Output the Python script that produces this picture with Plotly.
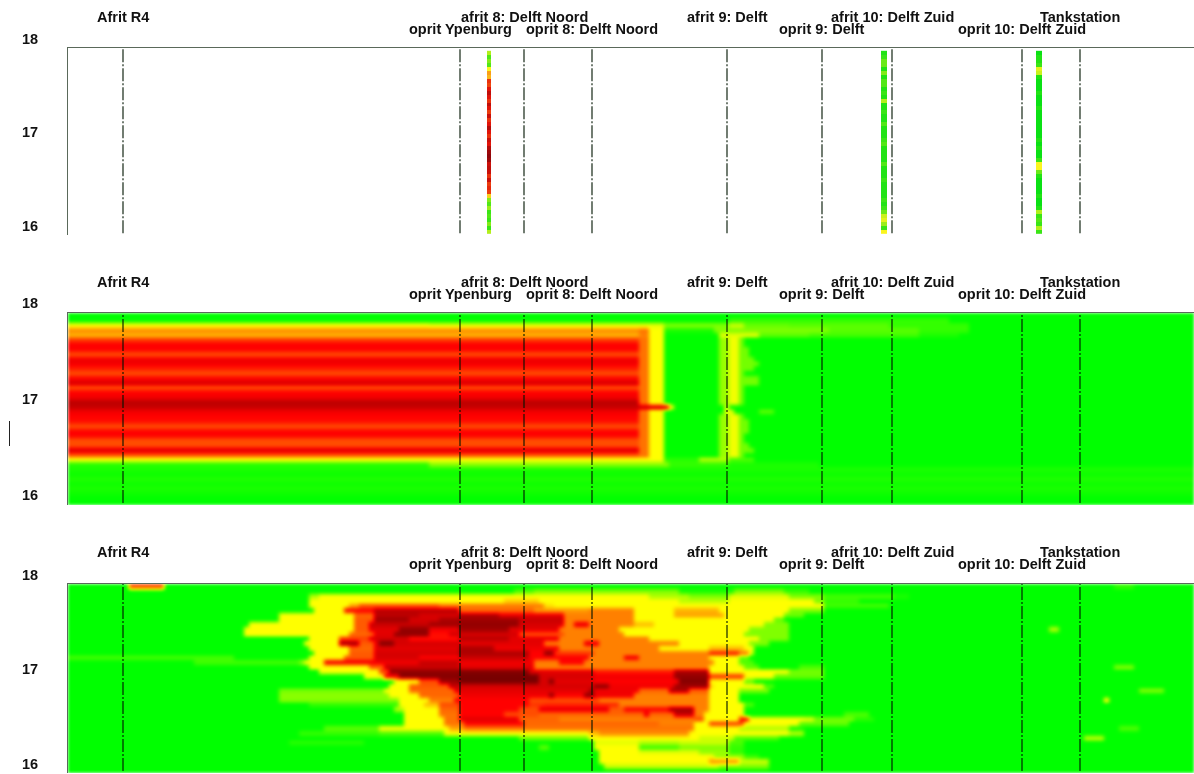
import plotly.graph_objects as go

# --- Locations along the carriageway (km from the left of the plot) ---
location_km = [0.55, 3.92, 4.56, 5.24, 6.59, 7.54, 8.24, 9.54, 10.12]
location_names = ["Afrit R4", "oprit Ypenburg", "afrit 8: Delft Noord", "oprit 8: Delft Noord",
                  "afrit 9: Delft", "oprit 9: Delft", "afrit 10: Delft Zuid",
                  "oprit 10: Delft Zuid", "Tankstation"]
location_row = [0, 1, 0, 1, 0, 1, 0, 1, 0]
y_tick_values = [16, 17, 18]

# --- Panel A: three measured strips (level per cell, top to bottom) ---
strip_edges_km = [[4.19, 4.23], [8.13, 8.185], [9.68, 9.735]]
strip_a = [.7, .3, .5, .3, 1, 1.7, 1.5, 2.7, 2.5, 3, 3.3, 3, 2.7, 3.3, 3, 2.6, 3.2, 2.7, 3, 3.4, 3, 2.7, 3.2,
           3, 3.4, 3.6, 3.7, 3.6, 3.2, 3.3, 3.2, 2.7, 3.2, 2.6, 2.8, 2.6, 1.3, .5, .3, .6, .2, .3, .2, .5, .2, .7]
strip_b = [.1, .2, .4, .4, .1, .5, .1, .3, .3, .1, .2, .1, .7, .1, .1, .2, .1, .1, .3, .1, .1, .1, .2, .3, .1,
           .1, .1, .1, .3, .1, .1, .1, .2, .1, .1, .1, .1, .2, .1, .2, .4, .8, .9, .6, .2, 1]
strip_c = [0, .1, .1, .2, .9, .8, .1, 0, 0, 0, .1, 0, 0, 0, .1, 0, 0, 0, 0, 0, 0, 0, .1, 0, .1, 0, 0, .2, 1, 1,
           .4, .1, 0, 0, 0, 0, .1, 0, 0, .1, .7, .2, .3, .2, .7, .2]

# --- Panel B: level of each band upstream of the queue head, top to bottom ---
band_levels = [0, 0, 1, 1.9, 1.6, 2.5, 3, 3, 2.4, 3.1, 3.1, 2.8, 2.4, 3, 3.3, 2.4, 3, 3.1, 3.5, 3.6, 3.1, 3, 2.9,
               2.4, 3, 3, 2.4, 2.4, 3.3, 2.3, 1, .15, .1, .05, .12, .05, .1, .05, 0, 0]
fringe_end_km = [6.77, 6.77, 6.80, 6.82, 6.87, 6.92, 6.87, 6.77, 6.92, 6.92, 6.74, 6.75, 6.74, 6.77, 6.62,
                 6.67, 6.77, 6.80, 6.82, 6.82, 6.77, 6.77, 6.80, 6.84, 6.77]   # rows 5..29
special_rows_b = {
    0: [(11.3, 0)],
    1: [(6.59, 0), (8.82, .2), (11.3, 0)],
    2: [(3.6, 1), (5.95, .9), (6.59, .5), (6.75, .8), (7.2, .4), (8.2, .35), (9.0, .2), (11.3, 0)],
    3: [(5.72, 1.9), (5.80, 2.1), (5.95, 1), (6.45, .1), (6.59, .5), (7.6, .5), (8.5, .35), (9.0, .2), (11.3, 0)],
    4: [(5.72, 1.6), (5.80, 2), (5.95, 1), (6.5, 0), (6.9, .9), (7.4, .35), (8.5, .25), (8.9, .1), (11.3, 0)],
    19: [(5.98, 3.4), (6.04, 1), (6.55, 0), (6.62, .8), (11.3, 0)],
    20: [(5.72, 3.1), (5.80, 2.1), (5.95, 1), (6.55, 0), (6.67, .9), (6.89, 0), (7.03, .35), (11.3, 0)],
    30: [(5.95, 1), (6.3, .15), (6.59, .7), (6.85, .3), (11.3, 0)],
    31: [(3.6, .15), (6.0, .55), (6.59, .2), (7.5, .1), (11.3, 0)],
}

# --- Panel C: per row, runs of (end km, level), top to bottom ---
rows_c = [
    [(0.62, 0), (0.97, 2.4), (10.45, 0), (10.65, .2), (11.3, 0)],
    [(4.47, 0), (4.67, .3), (6.12, .5), (6.22, .1), (6.65, .1), (7.17, .5), (7.42, .2), (11.3, 0)],
    [(2.42, 0), (2.50, .7), (5.82, 1), (6.22, .7), (6.59, .5), (7.22, .9), (7.57, .5), (8.25, .25), (8.42, .1), (11.3, 0)],
    [(2.40, 0), (2.57, 1), (4.37, 1), (4.72, 1.4), (6.12, 1), (6.59, .75), (7.47, 1), (7.57, .5), (7.92, .2), (11.3, 0)],
    [(2.40, 0), (2.79, 1), (2.92, 1.7), (3.72, 2.3), (4.77, 2), (4.87, 1.2), (7.57, 1), (8.22, .25), (11.3, 0)],
    [(2.44, 0), (2.74, 1), (3.04, 3), (3.92, 3.5), (4.67, 2.2), (5.22, 1.8), (5.67, 2), (6.07, 1), (6.52, 1.6), (7.22, 1), (7.57, .5), (11.3, 0)],
    [(2.12, 0), (2.85, 1), (3.04, 2.2), (3.50, 3.5), (3.92, 3.3), (4.30, 3.6), (4.95, 3.2), (5.65, 2), (6.07, 1), (6.54, 1.7), (7.17, 1), (7.37, .4), (11.3, 0)],
    [(2.10, 0), (2.85, 1), (3.04, 2.3), (3.40, 3.7), (3.70, 3.3), (3.92, 3.6), (4.49, 3.7), (4.97, 3.4), (5.65, 2), (7.07, 1), (7.17, .4), (11.3, 0)],
    [(1.82, 0), (2.85, 1), (3.02, 2.3), (3.60, 3.4), (3.92, 3.7), (4.52, 3.8), (4.97, 3.3), (5.07, 2), (5.19, 3.2), (5.65, 2), (5.87, 1.5), (6.97, 1), (7.19, .5), (11.3, 0)],
    [(1.77, 0), (2.85, 1), (3.02, 2.3), (3.30, 3.2), (3.62, 3.8), (3.92, 3.1), (4.40, 3.7), (4.92, 3.2), (5.52, 2), (6.82, 1), (7.22, .5), (9.79, 0), (9.90, .7), (11.3, 0)],
    [(1.77, 0), (2.82, 1), (3.04, 2.2), (3.27, 3.2), (3.62, 3.8), (3.80, 2.9), (4.49, 3.3), (4.97, 2.4), (5.54, 2), (6.77, 1), (7.22, .5), (11.3, 0)],
    [(2.42, 0), (2.70, 1), (3.02, 2.5), (3.40, 3.3), (3.92, 2.9), (4.40, 3.5), (4.92, 3.2), (5.79, 2), (6.89, 1), (7.22, .5), (11.3, 0)],
    [(2.37, 0), (2.72, 1), (2.92, 3.7), (3.05, 2.3), (3.10, 3.2), (3.24, 3.9), (3.92, 3.3), (4.75, 3.2), (5.14, 2), (5.32, 3.2), (6.12, 2), (6.80, 1), (7.02, .5), (11.3, 0)],
    [(2.40, 0), (2.82, 1), (3.05, 2.2), (3.92, 3.2), (4.25, 3.6), (4.92, 3.1), (5.92, 2), (6.40, 1), (6.77, 1.5), (6.84, 1), (11.3, 0)],
    [(2.44, 0), (2.82, 1), (3.05, 2.3), (3.92, 3.3), (4.62, 3.6), (4.75, 3), (4.87, 3.8), (5.25, 2.6), (6.38, 2), (6.70, 2.8), (6.80, 2), (6.87, .8), (11.3, 0)],
    [(.02, 0), (1.65, .25), (2.42, 0), (2.75, 1), (3.05, 2.3), (3.50, 3.3), (3.92, 3), (4.62, 3.4), (5.19, 3), (5.55, 2), (5.72, 3.1), (6.39, 2), (6.72, 1), (6.82, .4), (11.3, 0)],
    [(1.25, 0), (2.32, .25), (2.34, .5), (2.55, 1), (3.02, 3.1), (3.50, 3.1), (3.92, 3.4), (4.65, 3.1), (4.92, 2), (5.15, 3), (6.44, 2), (6.72, 1), (6.87, .3), (11.3, 0)],
    [(2.40, 0), (3.02, 1), (3.17, 2.2), (3.92, 3.4), (4.65, 3.2), (6.39, 2), (6.77, 1), (6.92, .4), (7.32, 0), (7.57, .3), (10.47, 0), (10.65, .5), (11.3, 0)],
    [(2.50, 0), (3.09, 1), (3.20, 2.5), (3.92, 3.8), (4.62, 3.9), (5.25, 3.2), (6.05, 2.8), (6.39, 3.6), (6.59, 1), (7.22, 1), (7.57, .45), (11.3, 0)],
    [(2.95, 0), (3.15, 1), (3.32, 3), (3.92, 3.9), (4.69, 4), (5.25, 3.3), (6.05, 3.1), (6.39, 3.8), (6.75, 2.6), (7.07, 1), (7.57, .4), (11.3, 0)],
    [(3.25, 0), (3.52, 1), (3.72, 2.4), (3.92, 3.7), (4.69, 4), (4.79, 3.3), (4.87, 3.9), (5.25, 3.2), (6.12, 3), (6.39, 3.9), (6.44, 1), (6.77, 1), (6.87, .4), (11.3, 0)],
    [(3.19, 0), (3.42, 1), (3.79, 2.3), (3.92, 3.4), (5.25, 3.3), (5.42, 3.8), (6.05, 3.1), (6.39, 3.7), (6.44, 1.3), (6.97, 1), (7.07, .3), (11.3, 0)],
    [(2.12, 0), (3.17, .45), (3.39, 1), (3.87, 2.2), (5.19, 3.2), (5.25, 3.7), (5.72, 3.1), (6.00, 2.2), (6.22, 3.6), (6.42, 2.3), (6.72, 1), (7.02, .5), (10.72, 0), (10.94, .5), (11.3, 0)],
    [(2.12, 0), (3.19, .55), (3.52, 1), (3.89, 2.2), (4.79, 3.1), (4.87, 3.8), (5.14, 3), (5.25, 3.8), (5.65, 3.1), (6.42, 2), (6.72, 1), (11.3, 0)],
    [(2.12, 0), (3.29, .5), (3.59, 1), (3.85, 2), (4.62, 3), (5.32, 2.4), (6.42, 2), (6.72, 1), (10.34, 0), (10.42, 1.2), (11.3, 0)],
    [(2.42, 0), (3.29, .2), (3.57, 1), (3.72, 1.5), (3.92, 2.4), (4.62, 3), (4.77, 2.6), (5.52, 2.7), (6.42, 2), (6.77, 1), (6.87, .3), (11.3, 0)],
    [(3.27, 0), (3.37, .7), (3.72, 1), (3.92, 2.2), (4.52, 3), (4.72, 2.4), (5.42, 3.2), (5.55, 2.3), (6.02, 3), (6.25, 3.7), (6.42, 2), (6.74, 1), (11.3, 0)],
    [(3.35, 0), (3.70, 1), (3.90, 2.1), (4.37, 3), (4.72, 2.4), (5.75, 2.2), (5.80, 3.2), (6.05, 2.2), (6.25, 3.4), (6.37, 2), (6.77, 1), (7.77, 0), (8.00, .3), (11.3, 0)],
    [(3.37, 0), (3.75, 1), (3.92, 2.1), (4.52, 3.2), (4.92, 2.2), (6.25, 2), (6.35, 2.4), (6.70, 1), (6.80, 3), (7.37, 1), (7.44, .9), (7.87, .45), (8.07, .15), (11.3, 0)],
    [(3.37, 0), (3.77, 1), (3.94, 2.1), (4.57, 3), (5.92, 2.2), (6.25, 2), (6.42, 1), (6.77, 2.5), (7.32, 1), (7.82, .4), (11.3, 0)],
    [(2.55, 0), (3.12, .35), (3.79, 1), (3.95, 1.7), (6.25, 2.1), (6.72, 1), (7.22, .7), (7.35, .1), (10.52, 0), (10.70, .3), (11.3, 0)],
    [(2.29, 0), (3.09, .2), (3.75, .3), (5.19, 1), (5.32, 1.5), (6.22, 1.9), (7.22, 1), (7.37, .7), (11.3, 0)],
    [(4.52, 0), (5.19, .4), (6.32, 1), (6.67, .8), (7.12, .3), (10.17, 0), (10.34, .75), (11.3, 0)],
    [(2.19, 0), (2.95, .15), (5.25, 0), (5.72, .9), (6.12, .7), (6.59, .8), (6.77, .3), (11.3, 0)],
    [(4.69, 0), (4.82, .35), (5.25, 0), (5.72, 1), (6.09, .25), (6.59, .5), (6.77, .2), (11.3, 0)],
    [(5.29, 0), (5.72, 1), (6.32, .9), (6.59, .6), (6.77, .2), (11.3, 0)],
    [(5.32, 0), (6.45, 1), (6.77, .6), (6.92, .2), (11.3, 0)],
    [(5.32, 0), (6.42, 1), (6.69, 1.8), (7.02, .8), (11.3, 0)],
    [(5.35, 0), (6.52, .8), (7.02, .5), (11.3, 0)],
    [(11.3, 0)],
]

scale_heat = [[0, "rgb(0,255,0)"], [.25, "rgb(255,255,0)"], [.5, "rgb(255,128,0)"],
              [.75, "rgb(255,0,0)"], [1, "rgb(120,0,0)"]]
scale_strip = [[0, "rgb(10,225,20)"], [.25, "rgb(250,245,30)"], [.5, "rgb(250,120,20)"],
               [.75, "rgb(225,20,10)"], [1, "rgb(110,0,10)"]]

W, H = 1194, 774
panels = [(48, 235), (313, 505), (584, 773)]
y_range = [15.9, 17.9]
label_shift = [(31, 19), (31, 19), (32, 20)]
TEXT = dict(family="Liberation Sans", size=14.5, color="#111111")


def expand(runs, columns):
    out = []
    for c in columns:
        for end, level in runs:
            if c <= end:
                out.append(level)
                break
        else:
            out.append(runs[-1][1])
    return out


columns_km = [0.025 + 0.05 * k for k in range(227)]
rows_km = [17.875 - 0.05 * k for k in range(40)]

rows_b = []
for i, level in enumerate(band_levels):
    if i in special_rows_b:
        rows_b.append(special_rows_b[i])
    elif 5 <= i <= 29:
        end = fringe_end_km[i - 5]
        rows_b.append([(5.72, level), (5.80, 2.1), (5.95, 1), (6.52, 0), (6.60, .6), (6.70, .95), (end, .45), (11.3, 0)])
    else:
        rows_b.append([(11.3, level)])

fig = go.Figure()
for edges, strip in zip(strip_edges_km, [strip_a, strip_b, strip_c]):
    n = len(strip)
    fig.add_trace(go.Heatmap(
        x=edges, y=[17.87 - (17.87 - 15.91) * k / n for k in range(n + 1)],
        z=[[v] for v in strip], zmin=0, zmax=4, colorscale=scale_strip, showscale=False,
        xaxis="x", yaxis="y", hoverinfo="skip"))
for rows, xa, ya in [(rows_b, "x2", "y2"), (rows_c, "x3", "y3")]:
    fig.add_trace(go.Heatmap(
        x=columns_km, y=rows_km, z=[expand(r, columns_km) for r in rows],
        zmin=0, zmax=4, colorscale=scale_heat, showscale=False, zsmooth="best",
        xaxis=xa, yaxis=ya, hoverinfo="skip"))

layout = dict(width=W, height=H, margin=dict(l=0, r=0, t=0, b=0), paper_bgcolor="white",
              plot_bgcolor="white", showlegend=False)
shapes, notes = [], []
for p, (top, bottom) in enumerate(panels):
    suffix = "" if p == 0 else str(p + 1)
    layout["xaxis" + suffix] = dict(domain=[68 / W, 1], range=[0, 11.26], side="top", anchor="y" + suffix,
                                    showgrid=False, zeroline=False, showticklabels=False, ticks="",
                                    showline=True, linecolor="rgb(90,105,90)", linewidth=1.2)
    layout["yaxis" + suffix] = dict(domain=[1 - bottom / H, 1 - top / H], range=y_range, anchor="x" + suffix,
                                    showgrid=False, zeroline=False, showticklabels=False, ticks="",
                                    showline=True, linecolor="rgb(90,105,90)", linewidth=1.2)
    for km in location_km:
        shapes.append(dict(type="line", xref="x" + suffix, yref=f"y{suffix} domain", x0=km, x1=km, y0=0.01, y1=1,
                           line=dict(color="rgba(0,20,0,0.85)", width=1.3, dash="13px,2px,2px,2px"), layer="above"))
    for v in y_tick_values:
        notes.append(dict(xref="paper", x=30 / W, yref=f"y{suffix} domain",
                          y=(v - y_range[0]) / (y_range[1] - y_range[0]), text=f"<b>{v}</b>", showarrow=False,
                          font=TEXT, xanchor="center", yanchor="middle"))
    for km, name, row in zip(location_km, location_names, location_row):
        notes.append(dict(xref="x" + suffix, x=km, yref=f"y{suffix} domain", y=1, yshift=label_shift[p][row],
                          text=f"<b>{name}</b>", showarrow=False, font=TEXT, xanchor="center", yanchor="middle"))

# Small stray tick left of the middle panel
shapes.append(dict(type="line", xref="paper", yref="paper", x0=9.5 / W, x1=9.5 / W, y0=1 - 446 / H, y1=1 - 421 / H,
                   line=dict(color="#222", width=1)))
layout["shapes"] = shapes
layout["annotations"] = notes
fig.update_layout(**layout)

# Page flush to the window; soften the raster cells as in the scanned original
soften = """
document.body.style.margin = '0';
var st = document.createElement('style');
st.textContent = '.heatmaplayer image {filter: blur(1.4px);} .annotation-text {filter: blur(0.3px);}';
document.head.appendChild(st);
var imgs = document.querySelectorAll('.heatmaplayer image');
for (var k = 0; k < imgs.length && k < 3; k++) { imgs[k].style.filter = 'blur(0.5px)'; }
"""
fig.write_html("out.html", config=dict(displayModeBar=False), post_script=soften)
